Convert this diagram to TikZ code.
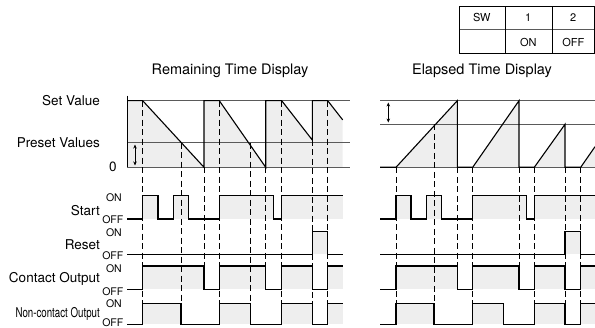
\documentclass[tikz,border=0pt]{standalone}
\usepackage{fontspec}
\setmainfont{TeX Gyre Heros}
\usepackage{graphicx}
\usetikzlibrary{arrows.meta}
\definecolor{shadegray}{RGB}{238,238,238}
\definecolor{linegray}{RGB}{90,90,90}

\tikzset{
  wave/.style={black, line width=1.1pt, line join=miter},
  refline/.style={linegray, line width=0.9pt},
  guide/.style={black, line width=0.8pt, dash pattern=on 6pt off 3.5pt},
  shade/.style={fill=shadegray, draw=none},
  lbl/.style={font=\fontsize{13.5}{15}\selectfont, inner sep=0pt},
  title/.style={font=\fontsize{14.5}{16}\selectfont, inner sep=0pt},
  state/.style={font=\fontsize{10.5}{12}\selectfont, inner sep=0pt, anchor=east},
  cell/.style={font=\fontsize{11}{12}\selectfont, inner sep=0pt},
  span/.style={{Stealth[length=4pt,width=3.5pt]}-{Stealth[length=4pt,width=3.5pt]}, line width=0.8pt},
}

\begin{document}
\begin{tikzpicture}[x=1pt, y=-1pt]
            \useasboundingbox (0,0) rectangle (595,328);
            % Switch table
            \draw[linegray, line width=0.6pt] (459.3,29.3) -- (594.5,29.3);
            \draw[line width=0.8pt] (459.3,6.7) rectangle (594.5,53.3);
            \draw[line width=0.8pt] (505,6.7) -- (505,53.3);
            \draw[line width=0.8pt] (552.3,6.7) -- (552.3,53.3);
            \node[cell] (sw)   at (481.7,17.7) {SW};
            \node[cell] (sw1)  at (528.3,17.7) {1};
            \node[cell] (sw2)  at (573.3,17.7) {2};
            \node[cell] (on1)  at (528.3,42.3) {ON};
            \node[cell] (off2) at (573.3,42.3) {OFF};
            % Titles
            \node[title] (remain)  at (230,71) {Remaining Time Display};
            \node[title] (elapsed) at (482,71) {Elapsed Time Display};
            % Row labels
            \node[lbl, anchor=east] (setval) at (100,100.7) {Set Value};
            \node[lbl, anchor=east] (presetval) at (100,142.7) {Preset Values};
            \node[lbl] (zero) at (113,167.3) {0};
            \node[lbl, anchor=east] (start) at (100,210.7) {Start};
            \node[state] (starton)  at (122,197.3) {ON};
            \node[state] (startoff) at (123.5,220) {OFF};
            \node[lbl, anchor=east] (reset) at (100,245) {Reset};
            \node[state] (reseton)  at (122,232.7) {ON};
            \node[state] (resetoff) at (123.5,256) {OFF};
            \node[lbl, anchor=east] (contact) at (100,279.3) {Contact Output};
            \node[state] (contacton)  at (122,268.3) {ON};
            \node[state] (contactoff) at (123.5,291.7) {OFF};
            \node[lbl, anchor=east] (noncontact) at (100,314.3) {\scalebox{0.72}[1]{Non-contact Output}};
            \node[state] (noncontacton)  at (122,304) {ON};
            \node[state] (noncontactoff) at (123.5,322.5) {OFF};

            % Shading, remaining time
            \fill[shade] (127.3,167.3) -- (127.3,100.7) -- (142.7,100.7) -- (204,167.3) -- (204,100.7)
                 -- (219.3,100.7) -- (265.7,167.3) -- (265.7,100.7) -- (281.7,100.7) -- (312.3,140)
                 -- (312.3,100.7) -- (327.7,100.7) -- (342.7,119.9) -- (342.7,167.3) -- cycle;
            \foreach \a/\b in {142.7/158, 173.3/188.7, 219.3/273.7, 281.7/342.7}
                \fill[shade] (\a,195.7) rectangle (\b,219);
            \fill[shade] (312.3,231.7) rectangle (327.7,254.3);
            \foreach \a/\b in {142.7/204, 219.3/265.7, 281.7/312.3, 327.7/342.7}
                \fill[shade] (\a,266) rectangle (\b,289.3);
            \foreach \a/\b in {142.7/181, 219.3/250.3, 281.7/312.3, 327.7/342.7}
                \fill[shade] (\a,303.3) rectangle (\b,324.3);
            % Shading, elapsed time
            \fill[shade] (396,167.3) -- (457.3,100.7) -- (457.3,167.3) -- cycle;
            \fill[shade] (472.7,167.3) -- (519,100.7) -- (519,167.3) -- cycle;
            \fill[shade] (534.3,167.3) -- (565,124.3) -- (565,167.3) -- cycle;
            \fill[shade] (580.7,167.3) -- (595,146.7) -- (595,167.3) -- cycle;
            \foreach \a/\b in {396/411, 426.3/441.7, 472.7/526.7, 534.3/595}
                \fill[shade] (\a,195.7) rectangle (\b,219);
            \fill[shade] (565,231.7) rectangle (580.7,254.3);
            \foreach \a/\b in {396/457.3, 472.7/519, 534.3/565, 580.7/595}
                \fill[shade] (\a,266) rectangle (\b,289.3);
            \foreach \a/\b in {396/434, 472.7/503.7, 534.3/565, 580.7/595}
                \fill[shade] (\a,303.3) rectangle (\b,324.3);

            % Reference levels
            \foreach \y in {100.7, 142.7, 167.3}
                \draw[refline] (127.3,\y) -- (350,\y);
            \foreach \y in {100.7, 124.3, 167.3}
                \draw[refline] (380,\y) -- (595,\y);

            % Timing guides
            \foreach \x/\y in {142.7/100.7, 181/142.7, 219.3/100.7, 250.3/142.7, 281.7/100.7,
                               312.3/140, 327.7/100.7, 396/167.3, 434/124.3, 472.7/167.3,
                               534.3/167.3, 565/167.3, 580.7/167.3}
                \draw[guide] (\x,\y) -- (\x,303.3);
            \foreach \x in {204, 265.7, 457.3, 519}
                \draw[guide] (\x,167.3) -- (\x,289.3);

            % Remaining time value
            \draw[wave] (127.3,95.7) -- (127.3,167.3);
            \draw[wave] (127.3,100.7) -- (142.7,100.7) -- (204,167.3) -- (204,100.7) -- (219.3,100.7)
                 -- (265.7,167.3) -- (265.7,100.7) -- (281.7,100.7) -- (312.3,140) -- (312.3,100.7)
                 -- (327.7,100.7) -- (342.7,119.9);
            \draw[span] (135,144.5) -- (135,165.5);
            % Elapsed time value
            \draw[wave] (380,167.3) -- (396,167.3) -- (457.3,100.7) -- (457.3,167.3) -- (472.7,167.3)
                 -- (519,100.7) -- (519,167.3) -- (534.3,167.3) -- (565,124.3) -- (565,167.3)
                 -- (580.7,167.3) -- (595,146.7);
            \draw[span] (388.3,102.5) -- (388.3,122.5);

            % Start
            \draw[wave] (127.3,219) -| (142.7,195.7) -| (158,219) -| (173.3,195.7) -| (188.7,219)
                 -| (219.3,195.7) -| (273.7,219) -| (281.7,195.7) -- (342.7,195.7);
            \draw[wave] (380,219) -| (396,195.7) -| (411,219) -| (426.3,195.7) -| (441.7,219)
                 -| (472.7,195.7) -| (526.7,219) -| (534.3,195.7) -- (595,195.7);
            % Reset
            \draw[wave] (127.3,254.3) -| (312.3,231.7) -| (327.7,254.3) -- (342.7,254.3);
            \draw[wave] (380,254.3) -| (565,231.7) -| (580.7,254.3) -- (595,254.3);
            % Contact output
            \draw[wave] (127.3,289.3) -| (142.7,266) -| (204,289.3) -| (219.3,266) -| (265.7,289.3)
                 -| (281.7,266) -| (312.3,289.3) -| (327.7,266) -- (342.7,266);
            \draw[wave] (380,289.3) -| (396,266) -| (457.3,289.3) -| (472.7,266) -| (519,289.3)
                 -| (534.3,266) -| (565,289.3) -| (580.7,266) -- (595,266);
            % Non-contact output
            \draw[wave] (127.3,324.3) -| (142.7,303.3) -| (181,324.3) -| (219.3,303.3) -| (250.3,324.3)
                 -| (281.7,303.3) -| (312.3,324.3) -| (327.7,303.3) -- (342.7,303.3);
            \draw[wave] (380,324.3) -| (396,303.3) -| (434,324.3) -| (472.7,303.3) -| (503.7,324.3)
                 -| (534.3,303.3) -| (565,324.3) -| (580.7,303.3) -- (595,303.3);
\end{tikzpicture}
\end{document}
